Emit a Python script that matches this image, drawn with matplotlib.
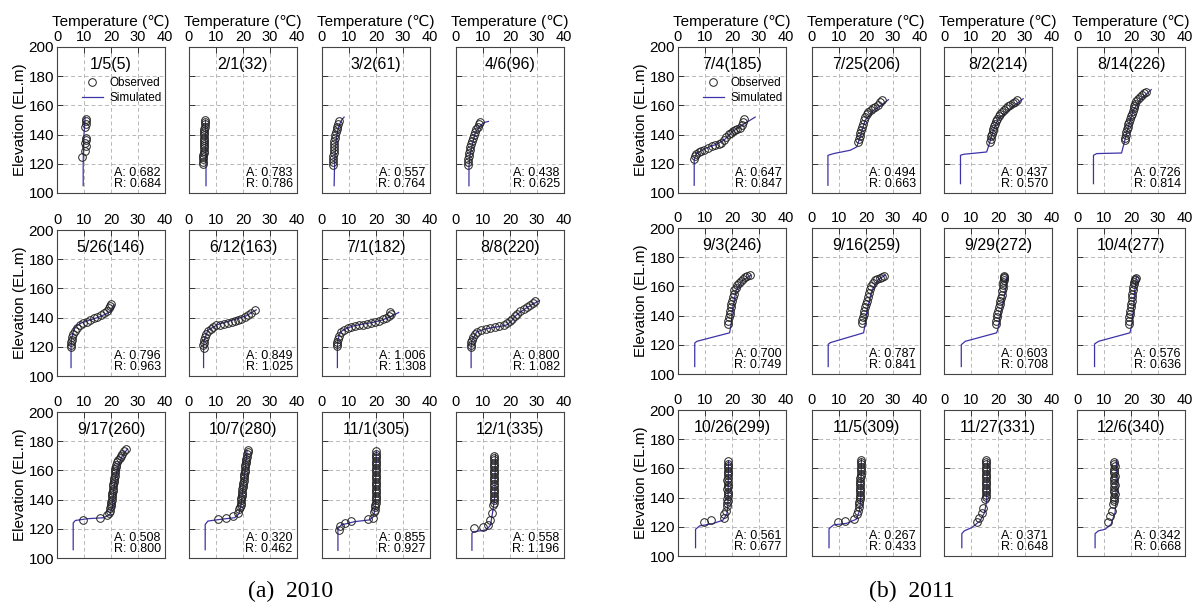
import matplotlib.pyplot as plt

plt.rcParams['font.family'] = ['Liberation Sans', 'DejaVu Sans']

# ---- 2010 -------------------------------------------------------------
dates_2010 = ['1/5(5)', '2/1(32)', '3/2(61)', '4/6(96)',
              '5/26(146)', '6/12(163)', '7/1(182)', '8/8(220)',
              '9/17(260)', '10/7(280)', '11/1(305)', '12/1(335)']
a_2010 = ['0.682', '0.783', '0.557', '0.438', '0.796', '0.849',
          '1.006', '0.800', '0.508', '0.320', '0.855', '0.558']
r_2010 = ['0.684', '0.786', '0.764', '0.625', '0.963', '1.025',
          '1.308', '1.082', '0.800', '0.462', '0.927', '1.196']

obs_t_2010 = [
    [9.3, 10.5, 10.7, 10.5, 10.8, 10.7, 10.5, 10.8, 10.6, 10.7],
    [5.1, 5.2, 5.2, 5.3, 5.3, 5.4, 5.4, 5.4, 5.5, 5.5, 5.5, 5.6, 5.6, 5.6, 5.7, 5.7, 5.7, 5.8, 5.8, 5.8, 5.9],
    [4.1, 4.1, 4.2, 4.2, 4.3, 4.3, 4.4, 4.5, 4.6, 4.7, 4.9, 5.1, 5.4, 5.7, 6.0, 6.3],
    [4.4, 4.5, 4.6, 4.7, 4.9, 5.1, 5.3, 5.6, 5.9, 6.2, 6.6, 7.0, 7.5, 8.0, 8.5, 8.9],
    [5.3, 5.2, 5.3, 5.4, 5.6, 6.0, 6.6, 7.5, 8.5, 9.7, 11.0, 12.3, 13.6, 14.9, 16.2, 17.4, 18.5, 19.3, 19.8, 19.9],
    [5.4, 5.3, 5.4, 5.6, 5.9, 6.4, 7.0, 8.0, 9.0, 10.1, 11.5, 12.9, 14.4, 15.8, 17.0, 18.1, 19.4, 20.6, 21.8, 23.0, 24.3],
    [5.7, 5.6, 5.7, 5.9, 6.3, 7.1, 8.3, 9.5, 10.8, 12.3, 13.7, 15.2, 16.7, 18.2, 19.7, 21.2, 22.5, 23.8, 25.0, 25.6, 25.3],
    [5.6, 5.5, 5.6, 5.8, 6.2, 7.0, 7.9, 9.4, 11.0, 12.6, 14.3, 16.0, 17.6, 18.9, 19.9, 20.8, 21.7, 22.6, 23.8, 25.0, 26.2, 27.4, 28.5, 29.2],
    [9.6, 16.1, 18.4, 19.3, 19.7, 19.8, 19.9, 20.0, 20.1, 20.2, 20.3, 20.4, 20.5, 20.6, 20.7, 20.8, 20.9, 21.0, 21.1,
     21.2, 21.3, 21.4, 21.5, 21.6, 21.8, 22.0, 22.3, 22.7, 23.2, 23.7, 24.2, 24.8, 25.4],
    [10.7, 13.8, 16.3, 18.1, 18.7, 19.0, 19.1, 19.2, 19.3, 19.4, 19.5, 19.6, 19.7, 19.8, 19.9, 20.0, 20.1, 20.2, 20.3,
     20.4, 20.5, 20.6, 20.7, 20.8, 20.9, 21.0, 21.1, 21.2, 21.4, 21.6, 21.9, 22.0],
    [6.3, 6.5, 8.4, 10.8, 17.0, 18.8, 19.4, 19.7, 19.8, 19.8, 19.9, 19.9, 19.9, 20.0, 20.0, 20.1, 20.0, 19.9, 20.0,
     20.0, 20.1, 20.0, 19.9, 20.0, 20.0, 20.1, 20.0, 19.9, 20.0, 20.0, 20.1, 20.0, 20.0],
    [6.5, 10.1, 12.0, 12.6, 13.2, 13.8, 14.0, 14.1, 14.1, 14.0, 14.1, 14.2, 14.1, 14.0, 14.1, 14.2, 14.1, 14.0, 14.1,
     14.2, 14.1, 14.0, 14.1, 14.2, 14.1, 14.0, 14.1],
]
obs_e_2010 = [
    [125, 129, 132, 134, 136, 138, 145, 147, 149, 151],
    [120, 121.5, 123, 124.5, 126, 127.5, 129, 130.5, 132, 133.5, 135, 136.5, 138, 139.5, 141, 142.5, 144, 145.5, 147, 148.5, 150],
    [119.5, 121.5, 123.5, 125.5, 127.5, 129.5, 131.5, 133.5, 135.5, 137.5, 139.5, 141.5, 143.5, 145.5, 147.5, 149.5],
    [119.5, 121.5, 123.5, 125.5, 127.5, 129.5, 131.5, 133.5, 135.5, 137.5, 139.5, 141.5, 143.5, 145.5, 147.0, 148.7],
    [120, 121.5, 123, 125, 127, 129, 131, 133, 134.7, 136, 137.3, 138.4, 139.4, 140.5, 141.7, 143, 144.5, 146.3, 147.8, 149],
    [119.5, 121, 122.5, 124.5, 126.5, 128.7, 130.8, 132.5, 133.7, 134.6, 135.2, 135.8, 136.2, 137, 137.6, 138.2, 139.2, 140.4, 141.8, 143.2, 145],
    [120.5, 122, 123.5, 125.3, 127.5, 129.8, 131.5, 132.8, 133.8, 134.3, 134.8, 135.2, 135.8, 136.5, 137.3, 138, 138.8, 139.8, 141.2, 142.5, 143.5],
    [119.8, 121.5, 123.2, 125, 127, 128.8, 130.2, 131.5, 132.5, 133, 133.5, 134.2, 135, 136, 137.5, 139.2, 140.8, 142.5, 144.2, 145.7, 147, 148.5, 150, 151.2],
    [126, 127.6, 129.5, 131, 132.5, 134, 135.5, 137, 138.5, 140, 141.5, 143, 144.5, 146, 147.5, 149, 150.5, 152, 153.5,
     155, 156.5, 158, 159.5, 161, 162.5, 164, 165.5, 167, 168.5, 170, 171.5, 173, 174.5],
    [126.4, 127.6, 128.7, 131, 133.5, 135, 136.5, 138, 139.5, 141, 142.5, 144, 145.5, 147, 148.5, 150, 151.5, 153, 154.5,
     156, 157.5, 159, 160.5, 162, 163.5, 165, 166.5, 168, 169.5, 171, 172.5, 174],
    [119.2, 121.9, 124.2, 125.4, 126.6, 127.7, 131.2, 133, 134.6, 136.2, 137.8, 139.4, 141, 142.6, 144.2, 145.8, 147.4, 149,
     150.6, 152.2, 153.8, 155.4, 157, 158.6, 160.2, 161.8, 163.4, 165, 166.6, 168.2, 169.8, 171.4, 173],
    [120.3, 121.5, 122.6, 126.1, 130.7, 136.5, 138, 139.6, 141.2, 142.8, 144.4, 146, 147.6, 149.2, 150.8, 152.4, 154,
     155.6, 157.2, 158.8, 160.4, 162, 163.6, 165.2, 166.8, 168.4, 170],
]
sim_t_2010 = [
    [9.7, 9.7, 9.8, 10.0, 10.3, 10.4],
    [6.3, 6.3, 6.2, 6.2, 6.1],
    [4.5, 4.6, 4.8, 5.2, 5.7, 6.5, 7.3, 8.2],
    [4.8, 4.8, 5.2, 5.9, 7.1, 8.3, 9.5, 10.8, 12.0],
    [5.2, 5.2, 5.4, 6.0, 6.8, 8.5, 11.2, 16.1, 19.9, 21.1],
    [5.4, 5.4, 5.6, 7.0, 10.7, 16.3, 21.2, 24.9],
    [5.7, 5.7, 5.9, 6.8, 9.0, 11.4, 15.0, 18.8, 22.0, 25.0, 28.4],
    [5.6, 5.6, 5.9, 7.7, 10.5, 13.8, 16.5, 18.7, 20.5, 21.7, 24.0, 26.0, 28.5, 30.9],
    [6.0, 6.0, 6.8, 11.2, 17.4, 19.6, 20.5, 20.9, 21.5, 22.4, 24.2, 26.1],
    [6.0, 6.0, 7.0, 11.4, 16.9, 18.5, 19.3, 20.0, 20.9, 21.5],
    [5.9, 5.9, 7.1, 12.1, 17.6, 19.1, 19.7, 20.1],
    [5.9, 5.9, 6.5, 11.3, 12.8, 13.8, 14.4, 14.6],
]
sim_e_2010 = [
    [105, 120, 130, 140, 148, 152],
    [105, 120, 130, 140, 150],
    [105, 115, 125, 135, 142, 147, 150, 152],
    [105, 118, 126, 132, 141, 144.5, 147, 148.5, 149],
    [105.8, 120, 125.6, 130, 133.7, 136, 137.7, 140.7, 144.2, 148.8],
    [105.8, 120, 124.4, 131.4, 135.3, 138.4, 141.2, 145.3],
    [105.8, 120, 125, 130.2, 132.5, 134.2, 135.5, 136.7, 138.2, 140.2, 143.5],
    [105.8, 120, 124.4, 130.2, 132, 133.3, 134, 134.9, 137.5, 140.7, 144, 146.5, 149.3, 151.6],
    [105.7, 124, 125.7, 126.9, 127.6, 129.9, 134.5, 143.7, 152.9, 162, 170, 174.7],
    [105.7, 123, 125.3, 126.4, 127.6, 130.3, 136.8, 148.3, 162, 173.6],
    [105.3, 120, 122.6, 124.9, 126.1, 128.4, 134.2, 173.4],
    [105.3, 116.9, 118, 119.2, 122.6, 134.2, 142.3, 171.1],
]

# ---- 2011 -------------------------------------------------------------
dates_2011 = ['7/4(185)', '7/25(206)', '8/2(214)', '8/14(226)',
              '9/3(246)', '9/16(259)', '9/29(272)', '10/4(277)',
              '10/26(299)', '11/5(309)', '11/27(331)', '12/6(340)']
a_2011 = ['0.647', '0.494', '0.437', '0.726', '0.700', '0.787',
          '0.603', '0.576', '0.561', '0.267', '0.371', '0.342']
r_2011 = ['0.847', '0.663', '0.570', '0.814', '0.749', '0.841',
          '0.708', '0.636', '0.677', '0.433', '0.648', '0.668']

obs_t_2011 = [
    [5.9, 6.2, 6.8, 7.6, 8.6, 9.8, 11.0, 12.5, 13.8, 15.0, 16.0, 16.9, 17.8, 18.8, 19.6, 20.3, 21.2, 22.0, 22.8, 23.6, 24.2, 24.6],
    [17.2, 17.4, 17.6, 17.8, 18.1, 18.4, 18.8, 19.1, 19.6, 20.2, 20.9, 21.8, 22.6, 23.4, 24.3, 25.1, 25.8],
    [17.1, 17.3, 17.5, 17.7, 18.0, 18.3, 18.6, 18.9, 19.3, 19.8, 20.3, 20.7, 21.4, 22.2, 23.0, 23.8, 24.6, 25.4, 26.2, 26.9],
    [17.7, 17.9, 18.1, 18.3, 18.5, 18.8, 19.0, 19.3, 19.6, 19.9, 20.2, 20.6, 21.0, 21.2, 21.4, 22.0, 22.6, 23.3, 24.0, 24.8, 25.7],
    [18.5, 18.7, 18.9, 19.1, 19.3, 19.5, 19.7, 19.9, 20.2, 20.6, 20.9, 21.4, 22.0, 22.6, 23.3, 24.0, 24.8, 25.6, 26.5],
    [18.5, 18.7, 18.9, 19.1, 19.4, 19.7, 20.0, 20.3, 20.7, 21.1, 21.5, 22.0, 22.6, 23.4, 24.2, 25.0, 25.8, 26.5],
    [19.3, 19.4, 19.5, 19.8, 20.1, 20.4, 20.7, 20.9, 21.1, 21.3, 21.5, 21.7, 21.9, 22.0, 22.1, 22.2, 22.3, 22.3],
    [19.2, 19.3, 19.4, 19.6, 19.7, 19.9, 20.0, 20.2, 20.4, 20.5, 20.7, 20.8, 21.0, 21.2, 21.4, 21.6, 21.7],
    [9.8, 12.3, 16.9, 17.2, 17.6, 18.1, 18.3, 18.4, 18.3, 18.4, 18.5, 18.4, 18.3, 18.4, 18.5, 18.4, 18.3, 18.4, 18.5,
     18.4, 18.5, 18.4, 18.5, 18.4, 18.5],
    [9.5, 12.3, 15.6, 16.6, 17.0, 17.3, 17.5, 17.5, 17.6, 17.6, 17.7, 17.7, 17.8, 17.8, 17.8, 17.9, 17.9, 17.9, 18.0,
     18.0, 18.0, 18.1, 18.1, 18.1, 18.2, 18.2],
    [12.4, 13.1, 14.0, 14.6, 15.2, 15.4, 15.5, 15.5, 15.6, 15.5, 15.4, 15.5, 15.6, 15.5, 15.4, 15.5, 15.6, 15.5, 15.4,
     15.5, 15.6, 15.5],
    [11.6, 12.2, 12.9, 13.5, 13.7, 13.8, 13.8, 13.9, 13.8, 13.7, 13.8, 13.9, 13.8, 13.7, 13.8, 13.9, 13.8, 13.7, 13.8,
     13.9, 13.8, 13.8],
]
obs_e_2011 = [
    [123.5, 125.3, 127, 128, 128.5, 129.5, 131, 131.9, 132.6, 133.3, 134.2, 136, 138.2, 140.2, 141.3, 142.2, 143.2, 144, 144.8, 146.5, 148.5, 150.5],
    [134.9, 137, 139, 141, 143, 145, 147.5, 149.8, 151.8, 153.8, 155.5, 157, 158.2, 159.2, 160.5, 162, 163.5],
    [134.9, 136.9, 138.8, 140.6, 142.3, 144, 145.8, 147.5, 149.2, 150.9, 152.6, 154.3, 155.6, 156.8, 158.2, 159.5, 160.5, 161.5, 162.5, 163.5],
    [136.1, 138, 140, 141.8, 143.5, 145.2, 147, 148.8, 150.6, 152.4, 154.3, 156, 158, 159.6, 161.2, 163, 164.5, 165.8, 167, 168.2, 169.2],
    [134.2, 136.5, 138.8, 141.1, 143.4, 145.7, 148, 150.3, 152.6, 154.9, 157.2, 159.2, 161, 162.5, 163.9, 165.2, 166.2, 167, 167.7],
    [134.6, 136.8, 139, 141.1, 143.4, 145.7, 148, 150.3, 152.8, 155.5, 158.4, 160.3, 162.2, 164.2, 165.3, 166, 166.6, 167],
    [134.2, 136.5, 138.8, 141.1, 143.4, 145.7, 147.8, 150, 152, 154.3, 156.6, 159, 161, 162.8, 164.4, 165.6, 166.5, 167],
    [134.2, 136.5, 138.8, 141.1, 143.4, 145.7, 148, 150.3, 152.6, 154.9, 157.2, 159.6, 161.5, 163, 164.3, 165.3, 166],
    [123.6, 124.5, 125.9, 128.6, 130.9, 134.3, 136, 137.6, 139.2, 140.8, 142.4, 144, 145.6, 147.2, 148.8, 150.4, 152,
     153.6, 155.2, 156.8, 158.4, 160, 161.6, 163.2, 164.8],
    [123.6, 124, 125.2, 128.6, 131, 133.5, 135.5, 137.1, 138.7, 140.3, 141.9, 143.5, 145.1, 146.7, 148.3, 149.9, 151.5,
     153.1, 154.7, 156.3, 157.9, 159.5, 161.1, 162.7, 164.3, 165.9],
    [123.6, 126.3, 129.7, 133.2, 138.9, 140.5, 142.1, 143.7, 145.3, 146.9, 148.5, 150.1, 151.7, 153.3, 154.9, 156.5,
     158.1, 159.7, 161.3, 162.9, 164.5, 165.7],
    [123.6, 127.5, 131, 135.5, 137.5, 139.1, 140.7, 142.3, 143.9, 145.5, 147.1, 148.7, 150.3, 151.9, 153.5, 155.1,
     156.7, 158.3, 159.9, 161.5, 163.1, 164.7],
]
sim_t_2011 = [
    [6.0, 6.0, 6.8, 10.5, 14.8, 17.2, 20.3, 24.0, 28.6],
    [5.9, 5.9, 8.0, 14.2, 16.6, 17.8, 19.7, 22.8, 25.5, 28.3],
    [6.1, 6.1, 7.2, 15.8, 16.8, 18.3, 20.1, 23.8, 26.5, 29.3],
    [6.1, 6.1, 7.3, 16.5, 17.4, 19.0, 20.8, 23.3, 27.5],
    [6.2, 6.2, 7.0, 19.1, 19.7, 20.1, 21.5, 24.0, 27.1],
    [6.0, 6.0, 6.8, 19.1, 19.7, 20.3, 22.2, 24.6, 27.1],
    [6.4, 6.4, 7.9, 19.5, 20.1, 20.7, 22.0, 22.9, 23.2],
    [6.5, 6.5, 8.0, 19.6, 20.2, 20.8, 21.4, 22.0],
    [6.5, 6.5, 8.0, 12.9, 16.6, 18.1, 18.5, 18.7],
    [6.3, 6.3, 8.0, 12.9, 16.4, 17.6, 18.1, 18.3],
    [6.6, 6.6, 7.5, 10.3, 13.4, 15.0, 15.8, 16.1],
    [6.7, 6.7, 7.9, 10.4, 12.6, 14.1, 14.4, 14.6],
]
sim_e_2011 = [
    [105.3, 123, 127, 130.8, 133.8, 136.5, 142.2, 146.8, 152],
    [105.3, 125.8, 127, 129.3, 131.6, 138.4, 149.8, 156.6, 160, 163.9],
    [106.4, 125.8, 126.5, 128.1, 133.8, 143, 150.9, 156.6, 160.5, 164.6],
    [106.4, 125.8, 127, 127.4, 133.8, 145.2, 156.6, 163.5, 170.8],
    [105.1, 121.2, 122.4, 128.2, 134.2, 143.4, 157.3, 164.2, 167.7],
    [105.1, 120.3, 121.5, 128.2, 134.2, 143.4, 157.3, 164.7, 167.7],
    [105.1, 120.1, 122.4, 128.2, 131.6, 138.6, 150.1, 159.4, 166.3],
    [105.1, 120.6, 122.4, 128.2, 132.8, 143.2, 157.2, 166.5],
    [105.7, 118.3, 120.6, 122.2, 124.5, 128.6, 135.5, 165.2],
    [105.7, 118.7, 121.3, 122.4, 125.2, 130.9, 140, 166.4],
    [105.7, 115.3, 117.2, 119.5, 124.1, 129.7, 137.8, 165.7],
    [105.7, 115.3, 117.2, 118.3, 121.7, 129.7, 137.8, 165.7],
]

W, H = 1201, 607
LINE = '#3d33a8'


def draw_panel(ax, title, a, r, ot, oe, st, se, row, col):
    ln, = ax.plot(st, se, color=LINE, lw=0.9, zorder=2)
    pt, = ax.plot(ot, oe, 'o', mfc='none', mec='#222222', ms=5.5, mew=0.7, zorder=3)
    ax.set_xlim(0, 40)
    ax.set_ylim(100, 200)
    ax.set_xticks([0, 10, 20, 30, 40])
    ax.set_yticks([100, 120, 140, 160, 180, 200])
    ax.xaxis.tick_top()
    ax.tick_params(direction='in', top=True, bottom=False, left=True, right=False,
                   labelsize=10.5, length=4, width=0.7, pad=2, colors='#333333',
                   labelcolor='black')
    ax.tick_params(axis='y', labelleft=(col == 0), labelsize=11)
    ax.grid(True, ls=(0, (4, 3)), color='#b8b8b8', lw=0.7)
    for s in ax.spines.values():
        s.set_color('#444444')
        s.set_linewidth(0.8)
    ax.text(0.5, 0.88, title, ha='center', va='center', transform=ax.transAxes, fontsize=11.5)
    ax.text(0.96, 0.14, 'A: ' + a, ha='right', va='center', transform=ax.transAxes, fontsize=9)
    ax.text(0.96, 0.06, 'R: ' + r, ha='right', va='center', transform=ax.transAxes, fontsize=9)
    if row == 0:
        ax.xaxis.set_label_position('top')
        ax.set_xlabel('Temperature (℃)', fontsize=11, labelpad=3)
    if col == 0:
        ax.set_ylabel('Elevation (EL.m)', fontsize=11, labelpad=1)
    if row == 0 and col == 0:
        ax.legend([pt, ln], ['Observed', 'Simulated'], loc='center',
                  bbox_to_anchor=(0.6, 0.70), frameon=False, fontsize=8.5,
                  handlelength=1.8, handletextpad=0.6, labelspacing=0.25, borderpad=0)


fig = plt.figure(figsize=(W / 100, H / 100), dpi=100)

groups = [
    ([57, 189, 322, 456], [47, 230, 412], dates_2010, a_2010, r_2010,
     obs_t_2010, obs_e_2010, sim_t_2010, sim_e_2010),
    ([678, 812, 944, 1077], [47, 228, 410], dates_2011, a_2011, r_2011,
     obs_t_2011, obs_e_2011, sim_t_2011, sim_e_2011),
]
pw, ph = 108, 146
for lefts, tops, dates, a_vals, r_vals, ot, oe, st, se in groups:
    for i in range(12):
        row, col = divmod(i, 4)
        ax = fig.add_axes([lefts[col] / W, 1 - (tops[row] + ph) / H, pw / W, ph / H])
        draw_panel(ax, dates[i], a_vals[i], r_vals[i], ot[i], oe[i], st[i], se[i], row, col)

fig.text(291 / W, 1 - 591 / H, '(a)  2010', ha='center', va='center',
         family='Liberation Serif', fontsize=17)
fig.text(912 / W, 1 - 591 / H, '(b)  2011', ha='center', va='center',
         family='Liberation Serif', fontsize=17)

fig.savefig('out.png', dpi=100)
